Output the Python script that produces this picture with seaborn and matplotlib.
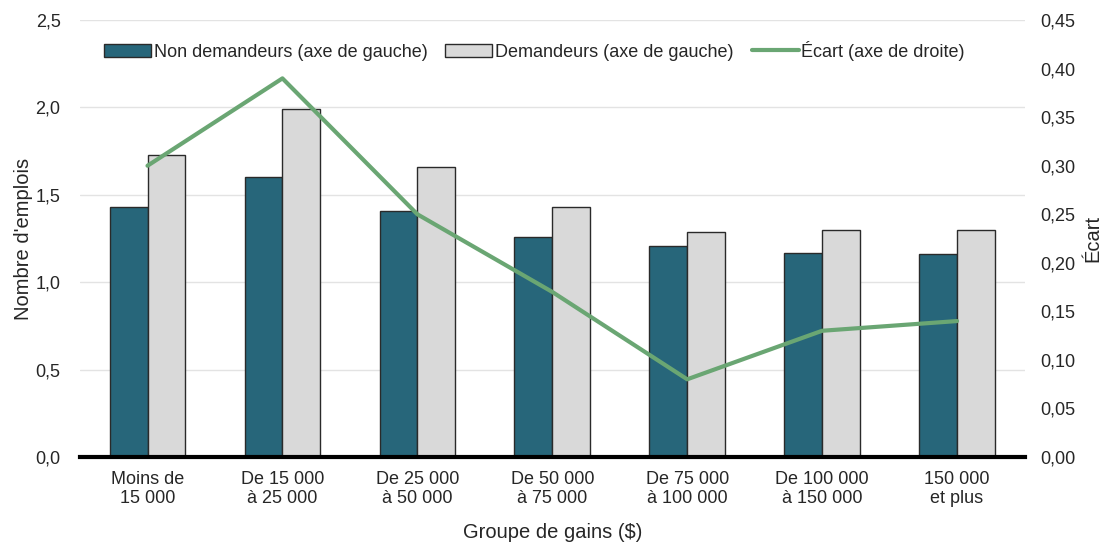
import matplotlib
matplotlib.use("Agg")
import matplotlib.pyplot as plt
import matplotlib.ticker as mticker
from matplotlib.patches import Patch
from matplotlib.lines import Line2D
import seaborn as sns
import pandas as pd

sns.set_style("white")
plt.rcParams["font.family"] = ["Liberation Sans", "DejaVu Sans"]

categories = ["Moins de\n15 000", "De 15 000\nà 25 000", "De 25 000\nà 50 000",
              "De 50 000\nà 75 000", "De 75 000\nà 100 000", "De 100 000\nà 150 000",
              "150 000\net plus"]
non_demandeurs = [1.43, 1.60, 1.41, 1.26, 1.21, 1.17, 1.16]
demandeurs = [1.73, 1.99, 1.66, 1.43, 1.29, 1.30, 1.30]
ecart = [0.30, 0.39, 0.25, 0.17, 0.08, 0.13, 0.14]

lab_non = "Non demandeurs (axe de gauche)"
lab_dem = "Demandeurs (axe de gauche)"
lab_ecart = "Écart (axe de droite)"

col_non = "#27667A"
col_dem = "#D9D9D9"
col_ecart = "#6AA673"

df = pd.DataFrame({
    "groupe": categories * 2,
    "valeur": non_demandeurs + demandeurs,
    "serie": [lab_non] * len(categories) + [lab_dem] * len(categories),
})

fig, ax = plt.subplots(figsize=(11.04, 5.44), dpi=100)
fig.subplots_adjust(left=0.0725, right=0.928, top=0.963, bottom=0.16)

sns.barplot(data=df, x="groupe", y="valeur", hue="serie",
            palette=[col_non, col_dem], width=0.56, saturation=1,
            edgecolor="#2A2A2A", linewidth=1.0, ax=ax, legend=False)

ax.set_ylim(0, 2.5)
ax.set_yticks([0, 0.5, 1.0, 1.5, 2.0, 2.5])
ax.yaxis.set_major_formatter(mticker.FuncFormatter(lambda v, p: f"{v:.1f}".replace(".", ",")))
ax.grid(axis="y", color="#E3E3E3", linewidth=1)
ax.set_axisbelow(True)
ax.set_xlim(-0.5, len(categories) - 0.5)
ax.set_xlabel("Groupe de gains ($)", fontsize=14.5, labelpad=12)
ax.set_ylabel("Nombre d'emplois", fontsize=14.5, labelpad=2)
ax.tick_params(axis="x", labelsize=13, length=0, pad=10)
ax.tick_params(axis="y", labelsize=13, length=0, pad=14)
for lbl in ax.get_xticklabels():
    lbl.set_linespacing(1.15)
for s in ["top", "right", "left"]:
    ax.spines[s].set_visible(False)
ax.spines["bottom"].set_color("black")
ax.spines["bottom"].set_linewidth(3)

ax2 = ax.twinx()
sns.lineplot(x=list(range(len(categories))), y=ecart, color=col_ecart,
             linewidth=3, ax=ax2)
ax2.set_ylim(0, 0.45)
ax2.set_yticks([i * 0.05 for i in range(10)])
ax2.yaxis.set_major_formatter(mticker.FuncFormatter(lambda v, p: f"{v:.2f}".replace(".", ",")))
ax2.set_ylabel("Écart", fontsize=14.5, labelpad=6)
ax2.tick_params(axis="y", labelsize=13, length=0, pad=11)
for s in ["top", "right", "left", "bottom"]:
    ax2.spines[s].set_visible(False)

handles = [Patch(facecolor=col_non, edgecolor="#2A2A2A", label=lab_non),
           Patch(facecolor=col_dem, edgecolor="#2A2A2A", label=lab_dem),
           Line2D([0], [0], color=col_ecart, linewidth=3, label=lab_ecart)]
ax2.legend(handles=handles, loc="upper center", bbox_to_anchor=(0.481, 0.99),
           ncol=3, frameon=False, fontsize=13, handlelength=2.6,
           handletextpad=0.15, columnspacing=1.0)

fig.savefig("out.png", dpi=100)
